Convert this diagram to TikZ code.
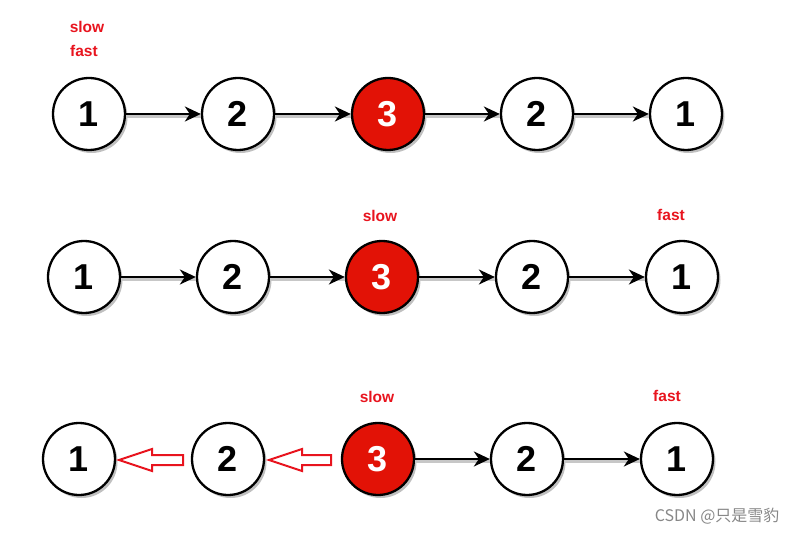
\documentclass[tikz,border=0pt]{standalone}
\usepackage{fontspec}
\setmainfont{Liberation Sans}
\newfontfamily\cjkfont{Noto Sans CJK SC}
\usetikzlibrary{arrows.meta,shadows}
\definecolor{nodered}{RGB}{226,18,6}
\definecolor{labelred}{RGB}{232,20,30}
\definecolor{wmgray}{RGB}{135,135,135}
\tikzset{
  lnode/.style={circle,draw=black,line width=2.3pt,minimum size=72pt,inner sep=0pt,fill=white,
    font=\fontsize{36}{36}\selectfont\bfseries,
    drop shadow={shadow xshift=2.5pt,shadow yshift=-3pt,fill=black!45,opacity=0.55}},
  rnode/.style={lnode,fill=nodered,text=white},
  link/.style={-{Stealth[length=16pt,width=15pt,inset=5pt]},line width=2.2pt,black,
    preaction={draw=black!22,line width=2.5pt,transform canvas={yshift=-2.5pt},-}},
  ptr/.style={text=labelred,font=\fontsize{15.5}{15.5}\selectfont\bfseries},
  hollow/.style={draw=labelred,line width=2pt,line join=miter}
}
\begin{document}
\begin{tikzpicture}[x=1pt,y=-1pt]
\useasboundingbox (0,0) rectangle (797,534);
% row 1
\node[lnode] (a1) at (89,114) {1};
\node[lnode] (a2) at (238,114) {2};
\node[rnode] (a3) at (388,114) {3};
\node[lnode] (a4) at (537,114) {2};
\node[lnode] (a5) at (686,114) {1};
\draw[link] (a1) -- (a2);
\draw[link] (a2) -- (a3);
\draw[link] (a3) -- (a4);
\draw[link] (a4) -- (a5);
\node[ptr] (s1) at (87,27) {slow};
\node[ptr] (f1) at (84,51) {fast};
% row 2
\node[lnode] (b1) at (84,277) {1};
\node[lnode] (b2) at (233,277) {2};
\node[rnode] (b3) at (382,277) {3};
\node[lnode] (b4) at (532,277) {2};
\node[lnode] (b5) at (682,277) {1};
\draw[link] (b1) -- (b2);
\draw[link] (b2) -- (b3);
\draw[link] (b3) -- (b4);
\draw[link] (b4) -- (b5);
\node[ptr] (s2) at (380,216) {slow};
\node[ptr] (f2) at (671,215) {fast};
% row 3
\node[lnode] (c1) at (79,459) {1};
\node[lnode] (c2) at (228,459) {2};
\node[rnode] (c3) at (378,459) {3};
\node[lnode] (c4) at (527,459) {2};
\node[lnode] (c5) at (677,459) {1};
\draw[link] (c3) -- (c4);
\draw[link] (c4) -- (c5);
\node[ptr] (s3) at (377,397) {slow};
\node[ptr] (f3) at (667,396) {fast};
% hollow red arrows
\coordinate (h1) at (119,460);
\coordinate (h2) at (269,460);
\draw[hollow] (h1) -- ++(33,-11) -- ++(0,6) -- ++(31,0) -- ++(0,10) -- ++(-31,0) -- ++(0,6) -- cycle;
\draw[hollow] (h2) -- ++(33,-11) -- ++(0,6) -- ++(29,0) -- ++(0,10) -- ++(-29,0) -- ++(0,6) -- cycle;
% watermark
\node[text=wmgray,font=\cjkfont\fontsize{16}{16}\selectfont,anchor=east] (wm) at (783,516) {CSDN @只是雪豹};
\end{tikzpicture}
\end{document}
